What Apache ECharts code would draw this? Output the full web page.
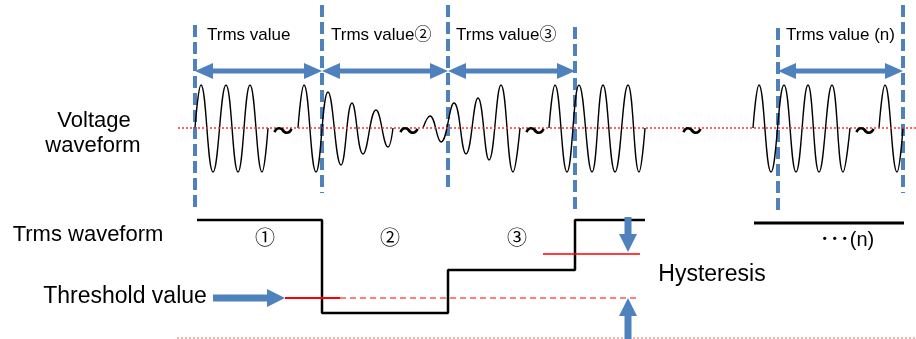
<!DOCTYPE html>
<html>
<head>
<meta charset="utf-8">
<script src="https://cdn.jsdelivr.net/npm/echarts@6/dist/echarts.min.js"></script>
<style>
  html, body { margin: 0; padding: 0; background: #fff; }
  #chart { width: 916px; height: 339px; }
</style>
</head>
<body>
<div id="chart"></div>
<script>
// diagram units: x 0..916, y 0..339 (y grows downward)
const markerX = [195, 322, 448, 575, 778, 903];
const markerTop = [25, 5, 5, 27, 28, 5];
const markerBottom = [209, 193, 192, 209, 212, 193];

const centerY = 128;

// voltage waveform pieces: start, peaks/troughs, end
const wave1 = [[195, 128], [201, 85], [213, 172], [226, 85], [238, 172], [250, 85], [262, 172], [268, 128]];
const wave2 = [[298, 128], [304, 85], [316, 172], [328, 92], [341, 165], [352, 103], [363, 154], [376, 110], [388, 147], [393, 128]];
const wave3 = [[423, 128], [430, 116], [441, 142], [454, 103], [466, 154], [478, 98], [489, 160], [501, 85], [513, 172], [520, 128]];
const wave4 = [[549, 128], [555, 85], [567, 172], [579, 85], [592, 172], [603, 85], [615, 172], [628, 85], [639, 172], [645, 128]];
const wave5 = [[753, 128], [759, 85], [771, 172], [784, 85], [796, 172], [808, 85], [819, 172], [832, 85], [843, 172], [850, 128]];
const wave6 = [[879, 128], [885, 85], [897, 172], [903, 128]];
const tildes = [[283, 132], [409, 132], [535, 132], [692, 132], [865, 132]];

const spanArrows = [[195, 71, 322, 71], [322, 71, 448, 71], [448, 71, 575, 71], [778, 71, 903, 71]];
const spanLabels = [[207, 35, 'Trms value'], [331, 35, 'Trms value②'], [456, 35, 'Trms value③'], [786, 35, 'Trms value (n)']];

// Trms waveform (step)
const trmsStep = [[197, 220], [322, 220], [322, 313], [448, 313], [448, 270], [575, 270], [575, 220], [645, 220]];
const trmsN = [[754, 223], [904, 223]];
const stepLabels = [[265, 239, '①'], [390, 239, '②'], [517, 239, '③'], [847, 240, '･･･(n)']];

const thresholdSolid = [[285, 298], [340, 298]];
const thresholdDashed = [[340, 298], [640, 298]];
const hysteresisLine = [[543, 254], [640, 254]];
const pointerArrows = [[213, 298, 285, 298], [628, 217, 628, 252], [628, 339, 628, 298]];

const sideLabels = [[94, 121, 'Voltage'], [93, 146, 'waveform'], [88, 235, 'Trms waveform']];
const bigLabels = [[125, 297, 'Threshold value'], [712, 275, 'Hysteresis']];

const BLUE = '#4F81BD';
const FONT = "'Liberation Sans', Arial, 'Noto Sans CJK JP', sans-serif";

const arrowShape = (s, e, w, L, H, both) => {
  const dx = e[0] - s[0], dy = e[1] - s[1];
  const len = Math.sqrt(dx * dx + dy * dy);
  const ux = dx / len, uy = dy / len, nx = -uy, ny = ux;
  const at = (p, a, b) => [p[0] + ux * a + nx * b, p[1] + uy * a + ny * b];
  const pts = [];
  if (both) {
    pts.push(s, at(s, L, H / 2), at(s, L, w / 2));
  } else {
    pts.push(at(s, 0, w / 2));
  }
  pts.push(at(e, -L, w / 2), at(e, -L, H / 2), e, at(e, -L, -H / 2), at(e, -L, -w / 2));
  if (both) {
    pts.push(at(s, L, -w / 2), at(s, L, -H / 2));
  } else {
    pts.push(at(s, 0, -w / 2));
  }
  return pts;
};

const arrowSeries = (rows, w, L, H, both) => ({
  type: 'custom',
  data: rows,
  encode: { x: [0, 2], y: [1, 3] },
  renderItem: (params, api) => {
    const s = api.coord([api.value(0), api.value(1)]);
    const e = api.coord([api.value(2), api.value(3)]);
    return { type: 'polygon', shape: { points: arrowShape(s, e, w, L, H, both) }, style: { fill: BLUE } };
  },
  z: 5
});

const textSeries = (rows, size, align, weight) => ({
  type: 'custom',
  data: rows.map((r) => [r[0], r[1]]),
  renderItem: (params, api) => {
    const p = api.coord([api.value(0), api.value(1)]);
    return {
      type: 'text',
      x: p[0],
      y: p[1],
      style: {
        text: rows[params.dataIndex][2], fontSize: size, fontFamily: FONT, fontWeight: weight || 'normal',
        fill: '#000', align: align, verticalAlign: 'middle'
      }
    };
  },
  z: 6
});

const waveSeries = (pts) => ({
  type: 'line',
  data: pts,
  smooth: 0.45,
  showSymbol: false,
  lineStyle: { color: '#000', width: 1.4 },
  z: 3
});

const segSeries = (pts, color, width, type) => ({
  type: 'line',
  data: pts,
  showSymbol: false,
  lineStyle: { color: color, width: width, type: type || 'solid' },
  z: 4
});

const chart = echarts.init(document.getElementById('chart'));
chart.setOption({
  animation: false,
  backgroundColor: '#fff',
  grid: { left: 0, right: 0, top: 0, bottom: 0 },
  xAxis: { type: 'value', min: 0, max: 916, show: false },
  yAxis: { type: 'value', min: 0, max: 339, inverse: true, show: false },
  series: [
    segSeries([[178, centerY], [916, centerY]], '#FF3030', 1.3, [2, 2]),
    segSeries([[177, 338], [916, 338]], '#FF6060', 1, [2, 2]),
    {
      type: 'lines',
      coordinateSystem: 'cartesian2d',
      data: markerX.map((x, i) => ({ coords: [[x, markerTop[i]], [x, markerBottom[i]]] })),
      lineStyle: { color: BLUE, width: 4, type: [12, 5], opacity: 1 },
      z: 2
    },
    waveSeries(wave1), waveSeries(wave2), waveSeries(wave3),
    waveSeries(wave4), waveSeries(wave5), waveSeries(wave6),
    segSeries(trmsStep, '#000', 2.5),
    segSeries(trmsN, '#000', 3),
    segSeries(thresholdSolid, '#FF0000', 2),
    segSeries(thresholdDashed, '#FF0000', 1.2, [6, 4]),
    segSeries(hysteresisLine, '#FF0000', 1.5),
    arrowSeries(spanArrows, 5, 18, 16, true),
    arrowSeries(pointerArrows, 7, 18, 18, false),
    textSeries(tildes.map((t) => [t[0], t[1], '～']), 21, 'center', 'bold'),
    textSeries(spanLabels, 17, 'left'),
    textSeries(stepLabels, 20, 'center'),
    textSeries(sideLabels, 22, 'center'),
    textSeries(bigLabels, 23, 'center')
  ]
});
</script>
</body>
</html>
